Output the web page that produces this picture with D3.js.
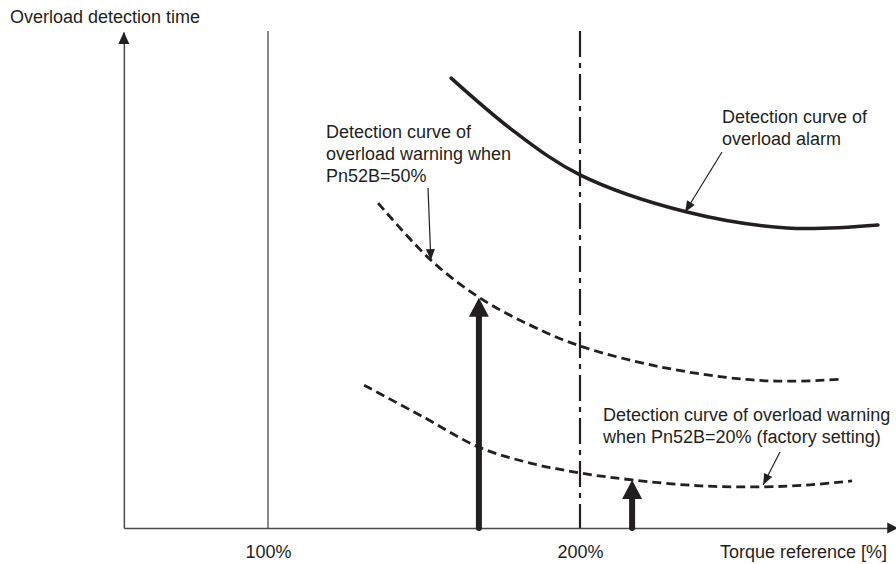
<!DOCTYPE html>
<html><head><meta charset="utf-8">
<script src="https://cdn.jsdelivr.net/npm/d3@7/dist/d3.min.js"></script>
<style>html,body{margin:0;padding:0;background:#fff;overflow:hidden}</style>
</head><body><svg id="c" width="896" height="564"></svg>
<script>
// ---- data ----
const tickValues = [100, 200];
const tickLabels = ["100%", "200%"];
const xTitle = "Torque reference [%]";
const yTitle = "Overload detection time";
const xExtent = [53.8, 302];           // torque range covered by the axis
const yExtent = [0, 100];              // relative detection time
const alarmTorque = [158.7, 179.2, 200, 234.3, 266.3, 295.5];
const alarmTime   = [90.7, 79.8, 71.2, 63.7, 60.5, 61.1];
const warn50Torque = [135.3, 152.2, 167.9, 184.0, 200, 225.6, 252.2, 268.3, 284.3];
const warn50Time   = [65.5, 54.0, 46.4, 40.9, 36.7, 32.5, 30.0, 29.6, 30.0];
const warn20Torque = [130.8, 149.7, 167.6, 184.0, 200, 216.7, 238.5, 258.7, 273.7, 287.2];
const warn20Time   = [28.8, 22.4, 16.3, 13.1, 11.1, 9.7, 8.5, 8.3, 8.7, 9.5];
const bigArrow = {torque: 167.6, time: 46.4};
const smallArrow = {torque: 216.7, time: 9.7};
const alarmLabel = ["Detection curve of", "overload alarm"];
const warn50Label = ["Detection curve of", "overload warning when", "Pn52B=50%"];
const warn20Label = ["Detection curve of overload warning", "when Pn52B=20% (factory setting)"];
const alarmPointer = {torque: 233.7, time: 63.7};
const warn50Pointer = {torque: 152.2, time: 54.0};
const warn20Pointer = {torque: 258.7, time: 8.7};

// ---- layout ----
const svg = d3.select("#c");
const ink = "#231f20", axisCol = "#4a4a4a";
const font = "'Liberation Sans', Arial, Helvetica, sans-serif";
const x = d3.scaleLinear().domain([100, 200]).range([268, 580]);
const y = d3.scaleLinear().domain([0, 100]).range([528, 32]);

function head(x1, y1, x2, y2, len, w) {
  const a = Math.atan2(y2 - y1, x2 - x1);
  const bx = x2 - len * Math.cos(a), by = y2 - len * Math.sin(a);
  const px = -Math.sin(a) * w / 2, py = Math.cos(a) * w / 2;
  return `M${x2},${y2}L${bx + px},${by + py}L${bx - px},${by - py}Z`;
}

// y axis
const gy = svg.append("g").attr("transform", `translate(${x(xExtent[0])},0)`)
  .call(d3.axisLeft(y.copy()).tickValues([]).tickSizeOuter(0));
gy.select(".domain").attr("stroke", axisCol).attr("stroke-width", 1.5);
svg.append("path").attr("d", head(x(xExtent[0]), y(0), x(xExtent[0]), y(yExtent[1]), 12, 11)).attr("fill", ink);

// x axis
const xAxisScale = x.copy().domain(xExtent).range([x(xExtent[0]), x(xExtent[1])]);
const gx = svg.append("g").attr("transform", `translate(0,${y(0)})`)
  .call(d3.axisBottom(xAxisScale).tickValues(tickValues).tickSize(0).tickPadding(17)
        .tickFormat((d, i) => tickLabels[i]));
gx.select(".domain").attr("stroke", axisCol).attr("stroke-width", 1.5);
gx.selectAll("text").attr("font-family", font).attr("font-size", 18).attr("fill", ink);
svg.append("path").attr("d", head(x(xExtent[0]), y(0), x(xExtent[1]), y(0), 11, 11)).attr("fill", ink);

// reference verticals
svg.append("line").attr("x1", x(100)).attr("x2", x(100)).attr("y1", y(100.2)).attr("y2", y(0))
  .attr("stroke", axisCol).attr("stroke-width", 1.3);
svg.append("line").attr("x1", x(200)).attr("x2", x(200)).attr("y1", y(100.2)).attr("y2", y(0))
  .attr("stroke", ink).attr("stroke-width", 2.2).attr("stroke-dasharray", "26,6,5,6");

// titles
svg.append("text").attr("x", 10).attr("y", 23).text(yTitle)
  .attr("font-family", font).attr("font-size", 18).attr("fill", ink);
svg.append("text").attr("x", 887).attr("y", 558).attr("text-anchor", "end").text(xTitle)
  .attr("font-family", font).attr("font-size", 18).attr("fill", ink);

// curves
const line = d3.line().x(d => x(d[0])).y(d => y(d[1])).curve(d3.curveCatmullRom.alpha(0.5));
svg.append("path").attr("d", line(d3.zip(alarmTorque, alarmTime)))
  .attr("fill", "none").attr("stroke", ink).attr("stroke-width", 3.5).attr("stroke-linecap", "round");
svg.append("path").attr("d", line(d3.zip(warn50Torque, warn50Time)))
  .attr("fill", "none").attr("stroke", ink).attr("stroke-width", 2.8).attr("stroke-dasharray", "9,5");
svg.append("path").attr("d", line(d3.zip(warn20Torque, warn20Time)))
  .attr("fill", "none").attr("stroke", ink).attr("stroke-width", 2.8).attr("stroke-dasharray", "9,5");

// thick arrows
[bigArrow, smallArrow].forEach(a => {
  const ax = x(a.torque), tip = y(a.time);
  svg.append("line").attr("x1", ax).attr("x2", ax).attr("y1", y(0)).attr("y2", tip + 15)
    .attr("stroke", ink).attr("stroke-width", 6).attr("stroke-linecap", "round");
  svg.append("path").attr("d", head(ax, y(0), ax, tip, 19, 20)).attr("fill", ink);
});

// labels
function label(lines, x0, y0, lh) {
  const t = svg.append("text").attr("font-family", font).attr("font-size", 18).attr("fill", ink);
  lines.forEach((s, i) => t.append("tspan").attr("x", x0).attr("y", y0 + i * lh).text(s));
}
label(alarmLabel, 722, 123, 22);
label(warn50Label, 326, 138, 22);
label(warn20Label, 603, 421, 22);

// pointers
function pointer(x1, y1, p) {
  const x2 = x(p.torque), y2 = y(p.time);
  svg.append("line").attr("x1", x1).attr("y1", y1).attr("x2", x2).attr("y2", y2)
    .attr("stroke", ink).attr("stroke-width", 1.2);
  svg.append("path").attr("d", head(x1, y1, x2, y2, 11, 9)).attr("fill", ink);
}
pointer(722, 152, alarmPointer);
pointer(428, 188, warn50Pointer);
pointer(780, 452, warn20Pointer);
</script></body></html>
